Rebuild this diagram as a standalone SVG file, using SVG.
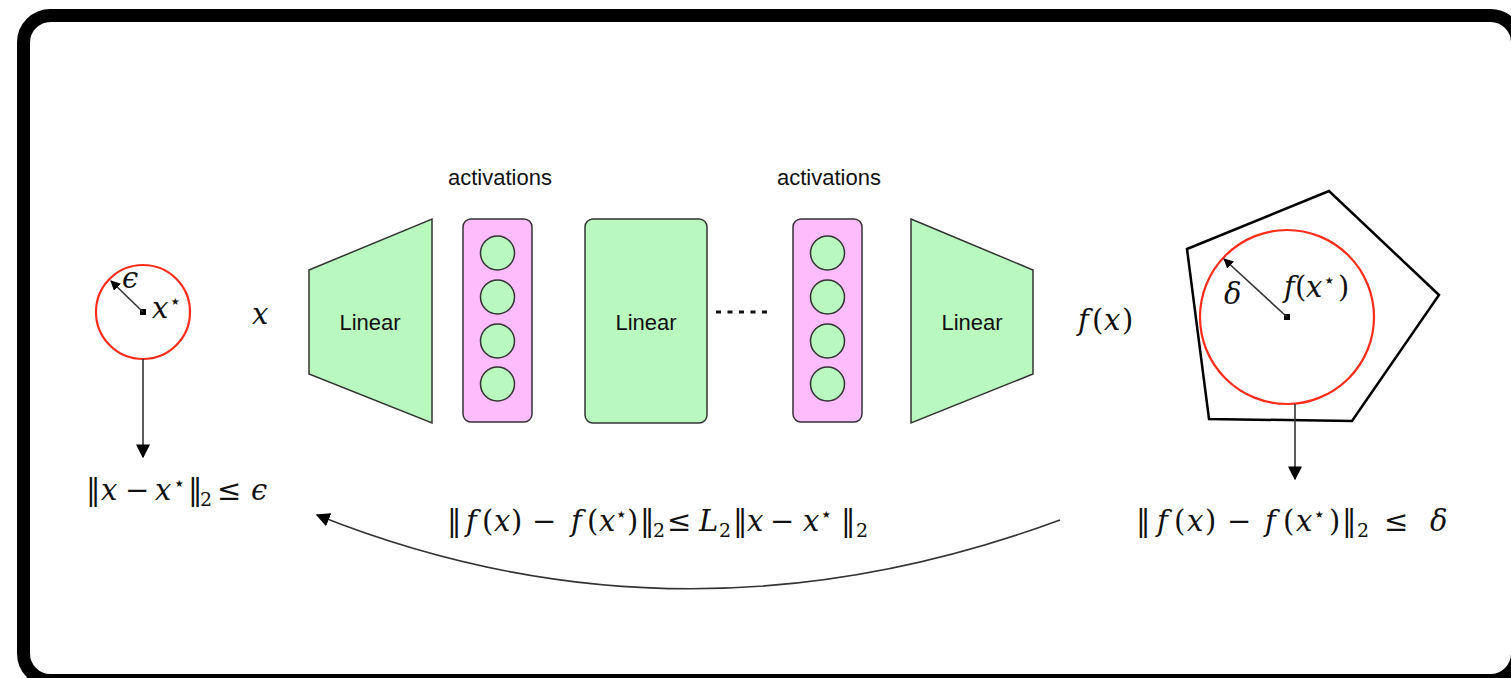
<svg xmlns="http://www.w3.org/2000/svg" width="1511" height="678" viewBox="0 0 1511 678">
<defs>
<style>
.frame{fill:#fff;stroke:#000;stroke-width:13}
.green{fill:#b9f8bf;stroke:#333;stroke-width:1.5}
.pink{fill:#fdbdfd;stroke:#333;stroke-width:1.5}
.red{fill:none;stroke:#ff2d1a;stroke-width:2.2}
.lbl{font-family:"Liberation Sans",Arial,sans-serif;font-size:22px;fill:#111;text-anchor:middle}
.math{font-family:"DejaVu Serif","Liberation Serif",serif;font-size:29px;fill:#111}
.it{font-style:italic}
.sup{font-size:20px}
.sub{font-size:19px}
.conn{fill:none;stroke:#333;stroke-width:1.6}
</style>
<marker id="ah" viewBox="0 0 10 10" refX="9" refY="5" markerWidth="10" markerHeight="10" markerUnits="userSpaceOnUse" orient="auto">
<path d="M0,0 L10,5 L0,10 z" fill="#000"/>
</marker>
<marker id="ahL" viewBox="0 0 10 10" refX="9" refY="5" markerWidth="14" markerHeight="14" markerUnits="userSpaceOnUse" orient="auto">
<path d="M0,0 L10,5 L0,10 z" fill="#000"/>
</marker>
</defs>
<rect class="frame" x="23.5" y="15.5" width="1494" height="665" rx="27"/>

<g id="input-ball">
<circle class="red" cx="143" cy="312" r="47"/>
<rect x="140" y="309" width="6" height="6" fill="#000"/>
<line class="conn" x1="143" y1="312" x2="111" y2="281" marker-end="url(#ah)" stroke-width="1.4"/>
<text x="122" y="288" class="math it" font-size="21">ϵ</text>
<text class="math" font-size="27"><tspan x="152" y="318" class="it">x</tspan><tspan x="169" y="308" class="sup">⋆</tspan></text>
</g>

<g id="input-bound">
<text class="math"><tspan x="86" y="500">‖</tspan><tspan x="101" y="500" class="it">x</tspan><tspan x="125" y="500">−</tspan><tspan x="155" y="500" class="it">x</tspan><tspan x="173" y="490" class="sup">⋆</tspan><tspan x="188" y="500">‖</tspan><tspan x="200" y="506" class="sub">2</tspan><tspan x="217" y="500">≤</tspan><tspan x="251" y="500" class="it">ϵ</tspan></text>
</g>

<g id="x-label"><text x="252" y="324" class="math it" font-size="28">x</text></g>

<g id="linear1">
<polygon class="green" points="309,270 432,219 432,423 309,374"/>
<text x="370" y="330" class="lbl">Linear</text>
</g>

<g id="act1">
<text x="500" y="185" class="lbl">activations</text>
<rect class="pink" x="463" y="219" width="69" height="203" rx="8"/>
<circle class="green" cx="497.5" cy="253" r="17"/>
<circle class="green" cx="497.5" cy="297" r="17"/>
<circle class="green" cx="497.5" cy="341" r="17"/>
<circle class="green" cx="497.5" cy="384" r="17"/>
</g>

<g id="linear2">
<rect class="green" x="585" y="219" width="122" height="204" rx="8"/>
<text x="646" y="330" class="lbl">Linear</text>
</g>

<g id="dots">
<line x1="716" y1="312" x2="769" y2="312" stroke="#111" stroke-width="3" stroke-dasharray="5,6.5"/>
</g>

<g id="act2">
<text x="829" y="185" class="lbl">activations</text>
<rect class="pink" x="793" y="219" width="69" height="203" rx="8"/>
<circle class="green" cx="827.5" cy="253" r="17"/>
<circle class="green" cx="827.5" cy="297" r="17"/>
<circle class="green" cx="827.5" cy="341" r="17"/>
<circle class="green" cx="827.5" cy="384" r="17"/>
</g>

<g id="linear3">
<polygon class="green" points="911,219 1033,270 1033,374 911,423"/>
<text x="972" y="330" class="lbl">Linear</text>
</g>

<g id="fx-label"><text class="math" font-size="29"><tspan x="1078" y="330" class="it">f</tspan><tspan x="1092" y="330">(</tspan><tspan x="1104" y="330" class="it">x</tspan><tspan x="1122" y="330">)</tspan></text></g>

<g id="output-set">
<polygon points="1187,249 1329,191 1439,295 1352,421 1209,419" fill="none" stroke="#000" stroke-width="2.5"/>
<circle class="red" cx="1287" cy="317" r="87"/>
<rect x="1284" y="314" width="6" height="6" fill="#000"/>
<line class="conn" x1="1287" y1="317" x2="1224" y2="259" marker-end="url(#ah)" stroke-width="1.4"/>
<text x="1224" y="304" class="math it" font-size="27">δ</text>
<text class="math" font-size="27"><tspan x="1284" y="297" class="it">f</tspan><tspan x="1295" y="297">(</tspan><tspan x="1306" y="297" class="it">x</tspan><tspan x="1323" y="287" class="sup">⋆</tspan><tspan x="1338" y="297">)</tspan></text>
</g>

<g id="output-bound">
<text class="math" font-size="30"><tspan x="1136" y="531">‖</tspan><tspan x="1157" y="531" class="it">f</tspan><tspan x="1174" y="531">(</tspan><tspan x="1187" y="531" class="it">x</tspan><tspan x="1205" y="531">)</tspan><tspan x="1227" y="531">−</tspan><tspan x="1265" y="531" class="it">f</tspan><tspan x="1283" y="531">(</tspan><tspan x="1296" y="531" class="it">x</tspan><tspan x="1313" y="521" class="sup">⋆</tspan><tspan x="1329" y="531">)</tspan><tspan x="1342" y="531">‖</tspan><tspan x="1357" y="537" class="sub">2</tspan><tspan x="1384" y="531">≤</tspan><tspan x="1430" y="531" class="it">δ</tspan></text>
</g>

<g id="lipschitz">
<text class="math"><tspan x="447" y="531">‖</tspan><tspan x="466" y="531" class="it">f</tspan><tspan x="482" y="531">(</tspan><tspan x="494" y="531" class="it">x</tspan><tspan x="511" y="531">)</tspan><tspan x="532" y="531">−</tspan><tspan x="571" y="531" class="it">f</tspan><tspan x="587" y="531">(</tspan><tspan x="599" y="531" class="it">x</tspan><tspan x="615" y="521" class="sup">⋆</tspan><tspan x="627" y="531">)</tspan><tspan x="640" y="531">‖</tspan><tspan x="653" y="537" class="sub">2</tspan><tspan x="667" y="531">≤</tspan><tspan x="699" y="531" class="it">L</tspan><tspan x="719" y="537" class="sub">2</tspan><tspan x="733" y="531">‖</tspan><tspan x="747" y="531" class="it">x</tspan><tspan x="770" y="531">−</tspan><tspan x="803" y="531" class="it">x</tspan><tspan x="820" y="521" class="sup">⋆</tspan><tspan x="841" y="531">‖</tspan><tspan x="856" y="537" class="sub">2</tspan></text>
</g>

<g id="connectors">
<line class="conn" x1="143" y1="359" x2="143" y2="457" marker-end="url(#ahL)"/>
<line class="conn" x1="1295" y1="404" x2="1295" y2="479" marker-end="url(#ahL)"/>
<path class="conn" d="M1060,520 Q680,660 317,515" marker-end="url(#ahL)"/>
</g>
</svg>
